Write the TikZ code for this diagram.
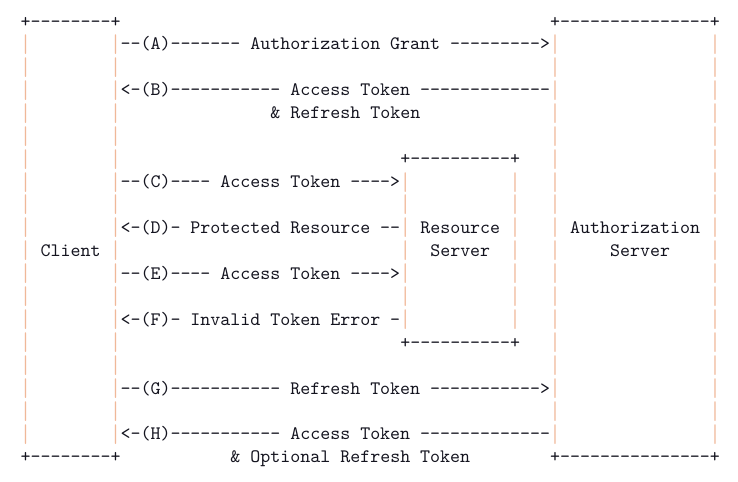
\documentclass[tikz,border=0pt]{standalone}
\usepackage{tikz}
\definecolor{pipec}{rgb}{.94, .72, .60}
\definecolor{textc}{rgb}{.08, .08, .12}
\newcommand\asciifont{\fontsize{9.53pt}{11.5pt}\selectfont\ttfamily}
\newcommand\vbar{\resizebox*{\width}{10pt}{|}}
\tikzset{
  ascii/.style={anchor=base west, inner sep=0pt, outer sep=0pt, yshift=-2.7pt, font=\asciifont, text=textc},
  pipe/.style={anchor=west, inner sep=0pt, outer sep=0pt, font=\asciifont, text=pipec}
}
\begin{document}
\begin{tikzpicture}[x=5.005pt,y=-11.49pt]
  \useasboundingbox (-0.07,-0.944) rectangle (73.80,20.07);
  % top and bottom edges of the boxes
  \node[ascii] (ctop) at (2,0) {+--------+};
  \node[ascii] (atop) at (55,0) {+---------------+};
  \node[ascii] (rtop) at (40,6) {+----------+};
  \node[ascii] (rbot) at (40,14) {+----------+};
  \node[ascii] (cbot) at (2,19) {+--------+};
  \node[ascii] (abot) at (55,19) {+---------------+};

  % the sides of the boxes
  \foreach \r in {1,...,18} {
    \node[pipe] (cl\r) at (2,\r) {\vbar};
    \node[pipe] (cr\r) at (11,\r) {\vbar};
    \node[pipe] (al\r) at (55,\r) {\vbar};
    \node[pipe] (ar\r) at (71,\r) {\vbar};
  }
  \foreach \r in {7,...,13} {
    \node[pipe] (rl\r) at (40,\r) {\vbar};
    \node[pipe] (rr\r) at (51,\r) {\vbar};
  }

  % box names
  \node[ascii] (client) at (4,10) {Client};
  \node[ascii] (res) at (42,9) {Resource};
  \node[ascii] (resb) at (43,10) {Server};
  \node[ascii] (auth) at (57,9) {Authorization};
  \node[ascii] (authb) at (61,10) {Server};

  % the flows
  \node[ascii] (a) at (12,1) {--(A)------- Authorization Grant --------->};
  \node[ascii] (b) at (12,3) {<-(B)----------- Access Token -------------};
  \node[ascii] (bb) at (27,4) {\& Refresh Token};
  \node[ascii] (c) at (12,7) {--(C)---- Access Token ---->};
  \node[ascii] (d) at (12,9) {<-(D)- Protected Resource --};
  \node[ascii] (e) at (12,11) {--(E)---- Access Token ---->};
  \node[ascii] (f) at (12,13) {<-(F)- Invalid Token Error -};
  \node[ascii] (g) at (12,16) {--(G)----------- Refresh Token ----------->};
  \node[ascii] (h) at (12,18) {<-(H)----------- Access Token -------------};
  \node[ascii] (hb) at (23,19) {\& Optional Refresh Token};
\end{tikzpicture}
\end{document}
